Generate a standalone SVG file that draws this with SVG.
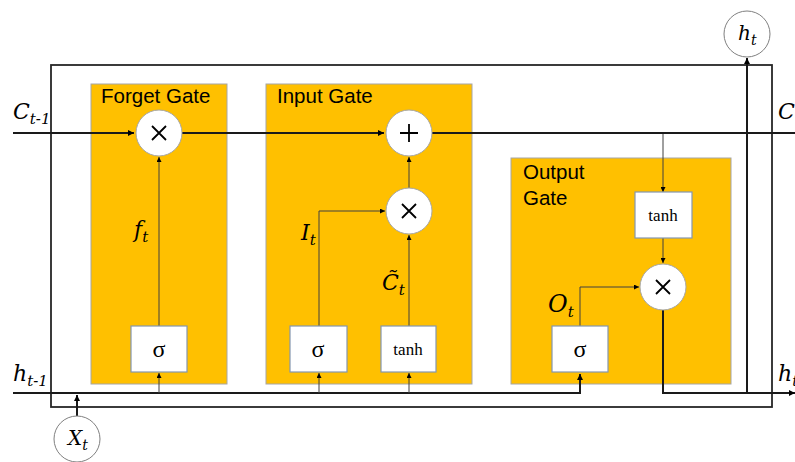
<svg xmlns="http://www.w3.org/2000/svg" width="795" height="462" viewBox="0 0 795 462">
<defs>
<marker id="ah" viewBox="0 0 10 10" refX="10" refY="5" markerWidth="5" markerHeight="5" orient="auto" markerUnits="userSpaceOnUse"><path d="M0,0 L10,5 L0,10 z" fill="#000"/></marker>
<marker id="ahs" viewBox="0 0 10 10" refX="10" refY="5" markerWidth="6" markerHeight="6" orient="auto" markerUnits="userSpaceOnUse"><path d="M0,0 L10,5 L0,10 z" fill="#000"/></marker>
</defs>
<style>
.gate{fill:#FFC000;stroke:#A6A6A6;stroke-width:1}
.box{fill:#fff;stroke:#8497B0;stroke-width:1.2}
.op{fill:#fff;stroke:#A6A6A6;stroke-width:1}
.io{fill:#fff;stroke:#7F7F7F;stroke-width:1}
.title{font-family:"Liberation Sans",Arial,sans-serif;font-size:20.5px;fill:#000}
.math{font-family:"DejaVu Serif","Liberation Serif",serif;font-style:italic;fill:#000}
.fn{font-family:"Liberation Serif","Times New Roman",serif;fill:#000}
.thick{fill:none;stroke:#1a1a1a;stroke-width:2}
.thin{fill:none;stroke:#404040;stroke-width:1}
.sym{fill:none;stroke:#000;stroke-width:1.8}
</style>
<rect x="51" y="65" width="721" height="342" fill="none" stroke="#262626" stroke-width="1.8"/>
<g id="forget-gate">
<rect class="gate" x="91" y="84" width="136" height="300"/>
<text class="title" x="101" y="103">Forget Gate</text>
</g>
<g id="input-gate">
<rect class="gate" x="266" y="84" width="206" height="300"/>
<text class="title" x="277" y="103">Input Gate</text>
</g>
<g id="output-gate">
<rect class="gate" x="511" y="158" width="220" height="226"/>
<text class="title" x="523" y="179">Output</text>
<text class="title" x="523" y="205">Gate</text>
</g>
<g id="connectors">
<line class="thick" x1="13" y1="133" x2="134" y2="133" marker-end="url(#ahs)"/>
<line class="thick" x1="182" y1="133" x2="384" y2="133" marker-end="url(#ahs)"/>
<line class="thick" x1="432" y1="133" x2="795" y2="133"/>
<polyline class="thick" points="13,393 580,393 580,374" marker-end="url(#ahs)"/>
<polyline class="thick" points="663,310 663,393 795,393" marker-end="url(#ahs)"/>
<line class="thick" x1="747" y1="393" x2="747" y2="58" marker-end="url(#ahs)"/>
<line class="thick" x1="77" y1="416" x2="77" y2="395" marker-end="url(#ahs)"/>
<line class="thin" x1="159" y1="393" x2="159" y2="373" marker-end="url(#ah)"/>
<line class="thin" x1="159" y1="326" x2="159" y2="157" marker-end="url(#ah)"/>
<line class="thin" x1="319" y1="393" x2="319" y2="373" marker-end="url(#ah)"/>
<line class="thin" x1="409" y1="393" x2="409" y2="373" marker-end="url(#ah)"/>
<polyline class="thin" points="319,326 319,211 385,211" marker-end="url(#ah)"/>
<line class="thin" x1="409" y1="326" x2="409" y2="235" marker-end="url(#ah)"/>
<line class="thin" x1="409" y1="188" x2="409" y2="157" marker-end="url(#ah)"/>
<line class="thin" x1="663" y1="134" x2="663" y2="192" stroke="#707070" marker-end="url(#ah)"/>
<line class="thin" x1="663" y1="238" x2="663" y2="263" marker-end="url(#ah)"/>
<polyline class="thin" points="580,326 580,287 639,287" marker-end="url(#ah)"/>
</g>
<g id="forget-mult">
<circle class="op" cx="159" cy="133" r="23"/>
<path class="sym" d="M152,126 L166,140 M166,126 L152,140"/>
</g>
<g id="forget-sigma">
<rect class="box" x="131" y="326" width="56" height="46"/>
<text class="fn" x="159" y="357" font-size="24" text-anchor="middle">σ</text>
</g>
<g id="input-plus">
<circle class="op" cx="409" cy="133" r="23"/>
<path class="sym" d="M409,124 L409,142 M400,133 L418,133"/>
</g>
<g id="input-mult">
<circle class="op" cx="409" cy="211" r="23"/>
<path class="sym" d="M402,204 L416,218 M416,204 L402,218"/>
</g>
<g id="input-sigma">
<rect class="box" x="290" y="326" width="57" height="46"/>
<text class="fn" x="318" y="357" font-size="24" text-anchor="middle">σ</text>
</g>
<g id="input-tanh">
<rect class="box" x="381" y="326" width="55" height="46"/>
<text class="fn" x="408" y="355" font-size="17" text-anchor="middle">tanh</text>
</g>
<g id="output-tanh">
<rect class="box" x="635" y="192" width="57" height="46"/>
<text class="fn" x="663" y="221" font-size="17" text-anchor="middle">tanh</text>
</g>
<g id="output-mult">
<circle class="op" cx="663" cy="287" r="23"/>
<path class="sym" d="M656,280 L670,294 M670,280 L656,294"/>
</g>
<g id="output-sigma">
<rect class="box" x="552" y="326" width="56" height="46"/>
<text class="fn" x="580" y="357" font-size="24" text-anchor="middle">σ</text>
</g>
<g id="ht-node">
<circle class="io" cx="747" cy="34" r="23"/>
<text class="math" x="738" y="40" font-size="20">h<tspan font-size="14" dy="5">t</tspan></text>
</g>
<g id="xt-node">
<circle class="io" cx="77" cy="439" r="23"/>
<text class="math" x="68" y="445" font-size="20">X<tspan font-size="14" dy="5">t</tspan></text>
</g>
<g id="labels">
<text class="math" x="13" y="119" font-size="22">C<tspan font-size="15" dy="5">t-1</tspan></text>
<text class="math" x="778" y="119" font-size="22">C<tspan font-size="15" dy="5">t</tspan></text>
<text class="math" x="13" y="381" font-size="22">h<tspan font-size="15" dy="5">t-1</tspan></text>
<text class="math" x="778" y="381" font-size="22">h<tspan font-size="15" dy="5">t</tspan></text>
<text class="math" x="134" y="237" font-size="22">f<tspan font-size="15" dy="5">t</tspan></text>
<text class="math" x="301" y="240" font-size="22">I<tspan font-size="15" dy="5">t</tspan></text>
<text class="math" x="382" y="290" font-size="22">C̃<tspan font-size="15" dy="5">t</tspan></text>
<text class="math" x="548" y="312" font-size="24">O<tspan font-size="15" dy="5">t</tspan></text>
</g>
</svg>
